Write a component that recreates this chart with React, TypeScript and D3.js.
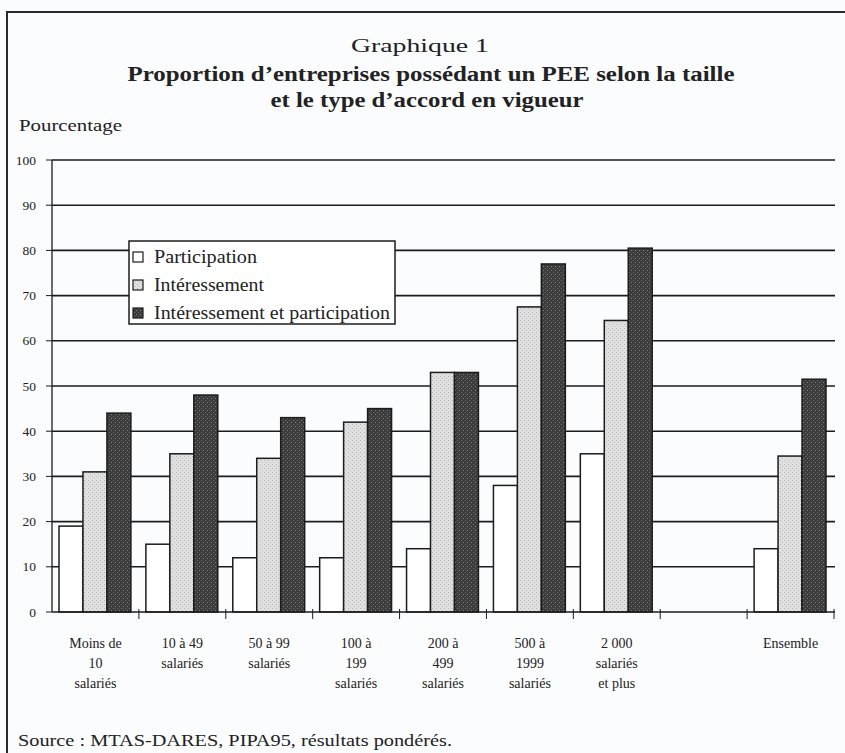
import * as d3 from "d3";

const W = 845;
const H = 753;

// size classes ("" = empty slot before Ensemble)
const categories = ["moins10", "10-49", "50-99", "100-199", "200-499", "500-1999", "2000+", "", "ensemble"];
const categoryLabels = [
  ["Moins de", "10", "salariés"],
  ["10 à 49", "salariés"],
  ["50 à 99", "salariés"],
  ["100 à", "199", "salariés"],
  ["200 à", "499", "salariés"],
  ["500 à", "1999", "salariés"],
  ["2 000", "salariés", "et plus"],
  [],
  ["Ensemble"],
];

const seriesNames = ["Participation", "Intéressement", "Intéressement et participation"];
const legendWidths = [103, 110, 236];
const participation = [19, 15, 12, 12, 14, 28, 35, null, 14];
const interessement = [31, 35, 34, 42, 53, 67.5, 64.5, null, 34.5];
const lesDeux = [44, 48, 43, 45, 53, 77, 80.5, null, 51.5];
const seriesValues = [participation, interessement, lesDeux];

const yTicks = [0, 10, 20, 30, 40, 50, 60, 70, 80, 90, 100];

const fills = ["#ffffff", "url(#light)", "url(#dark)"];
const serif = "'Liberation Serif', 'Times New Roman', serif";

export default function App() {
  const x = d3.scaleBand<string>().domain(categories).range([52, 834]).padding(0);
  const xi = d3
    .scaleBand<number>()
    .domain([0, 1, 2])
    .range([7, x.bandwidth() - 8]);
  const y = d3.scaleLinear().domain([0, 100]).range([612, 160]);

  const bars: { cx: number; v: number; s: number; key: string }[] = [];
  categories.forEach((c, i) => {
    seriesValues.forEach((vals, s) => {
      const v = vals[i];
      if (v == null) return;
      bars.push({ cx: (x(c) ?? 0) + (xi(s) ?? 0), v, s, key: c + s });
    });
  });

  return (
    <svg width={W} height={H} style={{ position: "absolute", left: 0, top: 0, background: "#fbfcfd" }}>
      <defs>
        <pattern id="light" width="4" height="4" patternUnits="userSpaceOnUse">
          <rect width="4" height="4" fill="#e0e0e0" />
          <rect x="0" y="0" width="1" height="1" fill="#b4b4b4" />
          <rect x="2" y="2" width="1" height="1" fill="#c2c2c2" />
        </pattern>
        <pattern id="dark" width="4" height="4" patternUnits="userSpaceOnUse">
          <rect width="4" height="4" fill="#3c3c3c" />
          <rect x="1" y="0" width="1" height="1" fill="#6e6e6e" />
          <rect x="3" y="2" width="1" height="1" fill="#808080" />
        </pattern>
      </defs>

      {/* frame */}
      <path d={`M7,${H} L7,12 L${W},12`} fill="none" stroke="#2a2a2a" strokeWidth={2} />

      {/* titles */}
      <text x={420} y={52} textAnchor="middle" fontFamily={serif} fontSize={19} fill="#222" textLength={138} lengthAdjust="spacingAndGlyphs">
        Graphique 1
      </text>
      <text x={431} y={81} textAnchor="middle" fontFamily={serif} fontSize={20} fontWeight="bold" fill="#222" textLength={607} lengthAdjust="spacingAndGlyphs">
        Proportion d’entreprises possédant un PEE selon la taille
      </text>
      <text x={427} y={107} textAnchor="middle" fontFamily={serif} fontSize={20} fontWeight="bold" fill="#222" textLength={313} lengthAdjust="spacingAndGlyphs">
        et le type d’accord en vigueur
      </text>
      <text x={19} y={131} fontFamily={serif} fontSize={17} fill="#222" textLength={103} lengthAdjust="spacingAndGlyphs">
        Pourcentage
      </text>

      {/* gridlines */}
      {yTicks.map((t) => (
        <g key={t}>
          {t > 0 && <line x1={52} x2={835} y1={y(t)} y2={y(t)} stroke="#1c1c1c" strokeWidth={1.6} />}
          <line x1={46} x2={52} y1={y(t)} y2={y(t)} stroke="#1c1c1c" strokeWidth={1} />
          <text x={36} y={y(t) + 4.5} textAnchor="end" fontFamily={serif} fontSize={13.5} fill="#222">
            {t}
          </text>
        </g>
      ))}

      {/* bars */}
      {bars.map((b) => (
        <rect
          key={b.key}
          x={b.cx}
          y={y(b.v)}
          width={xi.bandwidth()}
          height={y(0) - y(b.v)}
          fill={fills[b.s]}
          stroke="#1c1c1c"
          strokeWidth={1.5}
        />
      ))}

      {/* axes */}
      <line x1={52} x2={52} y1={y(100)} y2={y(0)} stroke="#1c1c1c" strokeWidth={1.3} />
      <line x1={52} x2={835} y1={y(0)} y2={y(0)} stroke="#1c1c1c" strokeWidth={1.6} />
      {categories.map((c) => (
        <line key={"t" + c} x1={(x(c) ?? 0) + x.bandwidth()} x2={(x(c) ?? 0) + x.bandwidth()} y1={y(0) - 3} y2={y(0) + 7} stroke="#1c1c1c" strokeWidth={1} />
      ))}

      {/* category labels */}
      {categories.map((c, i) =>
        categoryLabels[i].map((line, j) => (
          <text
            key={"l" + c + j}
            x={(x(c) ?? 0) + x.bandwidth() / 2}
            y={648 + j * 20}
            textAnchor="middle"
            fontFamily={serif}
            fontSize={14}
            fill="#222"
          >
            {line}
          </text>
        ))
      )}

      {/* legend */}
      <rect x={129} y={241} width={266} height={83} fill="#fff" stroke="#1c1c1c" strokeWidth={1.5} />
      {seriesNames.map((n, i) => (
        <g key={n} transform={`translate(133, ${252 + i * 28})`}>
          <rect x={0} y={0} width={10} height={10} fill={fills[i]} stroke="#1c1c1c" strokeWidth={1.2} />
          <text x={21} y={11} fontFamily={serif} fontSize={18} fill="#222" textLength={legendWidths[i]} lengthAdjust="spacingAndGlyphs">
            {n}
          </text>
        </g>
      ))}

      {/* source */}
      <text x={18} y={746} fontFamily={serif} fontSize={17} fill="#222" textLength={434} lengthAdjust="spacingAndGlyphs">
        Source : MTAS-DARES, PIPA95, résultats pondérés.
      </text>
    </svg>
  );
}
